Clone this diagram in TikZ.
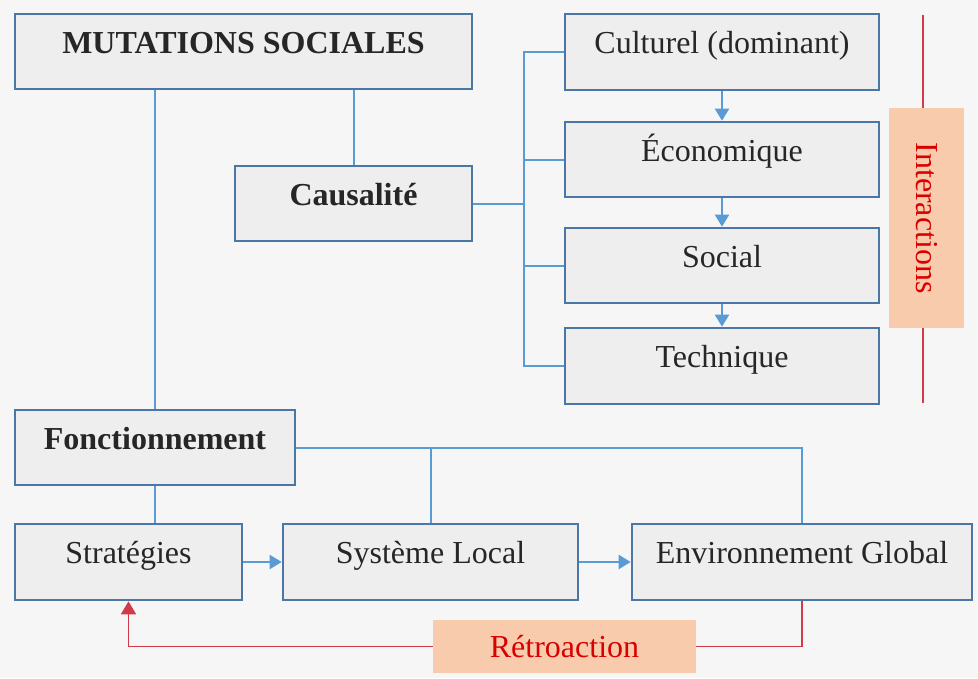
\documentclass[tikz,border=0pt]{standalone}
\usepackage{fontspec}
\setmainfont{Liberation Serif}
\usetikzlibrary{arrows.meta}
\definecolor{boxline}{HTML}{4A77A6}
\definecolor{boxfill}{HTML}{EEEEEE}
\definecolor{linkblue}{HTML}{5B9BD5}
\definecolor{retrored}{HTML}{D23A4A}
\definecolor{peach}{HTML}{F8CBAD}
\definecolor{paper}{HTML}{F6F6F6}
\begin{document}
\begin{tikzpicture}[x=1pt,y=-1pt,
    every node/.style={inner sep=0pt, font=\fontsize{32pt}{38pt}\selectfont, text=black!85},
    boite/.style={draw=boxline, line width=2.6pt, fill=boxfill, text height=20pt, text depth=17pt},
    lien/.style={draw=linkblue, line width=2pt},
    fleche/.style={lien, -{Triangle[length=12pt,width=14pt]}},
    retour/.style={draw=retrored, line width=1.6pt},
    etiquette/.style={fill=peach, text=red!85!black}]
    \fill [paper] (0,0) rectangle (978,678);
    \useasboundingbox (0,0) rectangle (978,678);
    \node [boite, minimum width=457pt, minimum height=75pt, font=\fontsize{32pt}{38pt}\selectfont\bfseries] (mut) at (243.5,51.5) {MUTATIONS SOCIALES};
    \node [boite, minimum width=237pt, minimum height=75pt, font=\fontsize{32pt}{38pt}\selectfont\bfseries] (caus) at (353.5,203.5) {Causalité};
    \node [boite, minimum width=314pt, minimum height=76pt] (cult) at (722,52) {Culturel (dominant)};
    \node [boite, minimum width=314pt, minimum height=75pt] (eco) at (722,159.5) {Économique};
    \node [boite, minimum width=314pt, minimum height=75pt] (soc) at (722,265.5) {Social};
    \node [boite, minimum width=314pt, minimum height=76pt] (tech) at (722,366) {Technique};
    \node [boite, minimum width=280pt, minimum height=75pt, font=\fontsize{32pt}{38pt}\selectfont\bfseries] (fonc) at (155,447.5) {Fonctionnement};
    \node [boite, minimum width=227pt, minimum height=76pt] (strat) at (128.5,562) {Stratégies};
    \node [boite, minimum width=295pt, minimum height=76pt] (sys) at (430.5,562) {Système Local};
    \node [boite, minimum width=340pt, minimum height=76pt] (env) at (802,562) {Environnement Global};
    \coordinate (itop) at (923,15);
    \coordinate (ibot) at (923,403);
    \node [etiquette, minimum width=75pt, minimum height=220pt] (inter) at (926.5,218) {};
    \node [text=red!85!black, rotate=-90] (intertxt) at (inter.center) {Interactions};
    \node [etiquette, minimum width=263pt, minimum height=53pt] (retro) at (564.5,646.5) {Rétroaction};
    \coordinate (bustop) at ([xshift=-40pt]cult.west);
    \coordinate (busbot) at ([xshift=-40pt]tech.west);
    \draw [lien] (fonc.north) -- (fonc.north |- mut.south);
    \draw [lien] (caus.north) -- (caus.north |- mut.south);
    \draw [lien] (cult.west) -- (bustop) -- (busbot) -- (tech.west);
    \draw [lien] (eco.west) -- (eco.west -| bustop);
    \draw [lien] (soc.west) -- (soc.west -| bustop);
    \draw [lien] (caus.east) -- (caus.east -| bustop);
    \draw [fleche] (cult.south) -- (eco.north);
    \draw [fleche] (eco.south) -- (soc.north);
    \draw [fleche] (soc.south) -- (tech.north);
    \draw [lien] (fonc.south) -- (fonc.south |- strat.north);
    \draw [lien] (fonc.east) -| (env.north);
    \draw [lien] (sys.north) -- (sys.north |- fonc.east);
    \draw [fleche] (strat.east) -- (sys.west);
    \draw [fleche] (sys.east) -- (env.west);
    \draw [retour] (env.south) |- (retro.east);
    \draw [retour, -{Triangle[length=13pt,width=15pt]}] (retro.west) -| (strat.south);
    \draw [retour, line width=1.2pt] (itop) -- (itop |- inter.north);
    \draw [retour, line width=1.2pt] (ibot) -- (ibot |- inter.south);
\end{tikzpicture}
\end{document}
